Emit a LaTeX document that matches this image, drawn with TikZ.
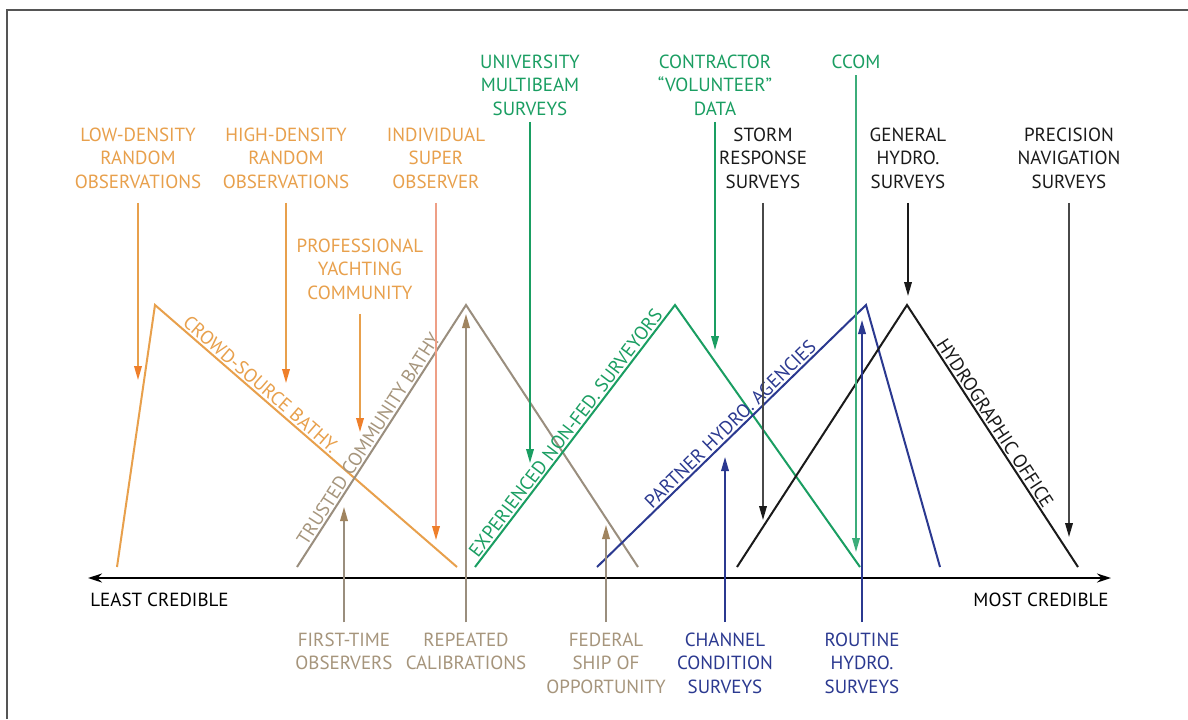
\documentclass[tikz,border=0pt]{standalone}
\usepackage{fontspec}
\setmainfont{PT Sans}
\usetikzlibrary{arrows.meta}
\definecolor{crowd}{HTML}{E8A04C}
\definecolor{crowdtip}{HTML}{EF7F2A}
\definecolor{salmon}{HTML}{EE9F86}
\definecolor{trust}{HTML}{A6957C}
\definecolor{trustln}{HTML}{9A8E7E}
\definecolor{trusttip}{HTML}{A0845F}
\definecolor{nonfed}{HTML}{1A9E62}
\definecolor{partner}{HTML}{2B3990}
\definecolor{hydro}{HTML}{1A1A1A}
\definecolor{frm}{HTML}{555555}
\tikzset{
  >={Stealth[length=7pt,width=4.5pt]},
  lab/.style={font=\fontsize{9.5}{11.75}\selectfont,align=center,inner sep=1pt},
  side/.style={font=\fontsize{9.5}{10}\selectfont,sloped,above,inner sep=0.8pt},
  tri/.style={line width=1pt},
  parr/.style={line width=0.8pt,shorten <=6pt},
  oarr/.style={parr,draw=crowd,-{Triangle[length=7pt,width=3.8pt,color=crowdtip]}},
  tarr/.style={parr,draw=trustln,-{Triangle[length=7pt,width=3.8pt,color=trusttip]}},
  garr/.style={parr,draw=nonfed,-{Triangle[length=7pt,width=3.8pt]}},
  barr/.style={parr,draw=partner,-{Triangle[length=7pt,width=3.8pt]}},
  karr/.style={parr,draw=hydro!80,-{Triangle[length=7pt,width=3.8pt,color=hydro]}},
}
\begin{document}
\begin{tikzpicture}[x=0.5pt,y=-0.5pt]
\useasboundingbox (0,0) rectangle (1188,719);
\fill[white] (0,0) rectangle (1188,719);
\draw[frm,line width=0.8pt] (7,719) -- (7,10) -- (1188,10);
% credibility axis
\coordinate (axL) at (88,578);
\coordinate (axR) at (1111,578);
\draw[<->,line width=0.9pt] (axL) -- (axR);
\node[lab,anchor=west] (least) at (88,600) {LEAST CREDIBLE};
\node[lab,anchor=east] (most) at (1111,600) {MOST CREDIBLE};
% triangles
\draw[tri,crowd] (117,567) -- (155,305) -- node[side,pos=0.33]{CROWD-SOURCE BATHY.} (457,567);
\draw[tri,trustln] (297,567) -- node[side,trust,pos=0.47]{TRUSTED COMMUNITY BATHY} (466,305) -- (638,567);
\draw[tri,nonfed] (475,567) -- node[side,pos=0.49]{EXPERIENCED NON-FED. SURVEYORS} (675,305) -- (860,567);
\draw[tri,partner] (597,567) -- node[side,pos=0.52]{PARTNER HYDRO. AGENCIES} (866,305) -- (940,567);
\draw[tri,hydro] (737,567) -- (907,305) -- node[side,pos=0.47]{HYDROGRAPHIC OFFICE} (1078,567);
% labels above
\node[lab,crowd] (lowd) at (138,158) {LOW-DENSITY\\RANDOM\\OBSERVATIONS};
\node[lab,crowd] (highd) at (286,158) {HIGH-DENSITY\\RANDOM\\OBSERVATIONS};
\node[lab,crowd] (indiv) at (436,158) {INDIVIDUAL\\SUPER\\OBSERVER};
\node[lab,crowd] (yacht) at (360,269) {PROFESSIONAL\\YACHTING\\COMMUNITY};
\node[lab,nonfed] (univ) at (530,85) {UNIVERSITY\\MULTIBEAM\\SURVEYS};
\node[lab,nonfed] (contr) at (715,85) {CONTRACTOR\\“VOLUNTEER”\\DATA};
\node[lab,nonfed] (ccom) at (856,62) {CCOM};
\node[lab,hydro] (storm) at (763,158) {STORM\\RESPONSE\\SURVEYS};
\node[lab,hydro] (gen) at (908,158) {GENERAL\\HYDRO.\\SURVEYS};
\node[lab,hydro] (prec) at (1069,158) {PRECISION\\NAVIGATION\\SURVEYS};
% labels below
\node[lab,trust] (first) at (344,651.5) {FIRST-TIME\\OBSERVERS};
\node[lab,trust] (rep) at (466,651.5) {REPEATED\\CALIBRATIONS};
\node[lab,trust] (fed) at (606,663) {FEDERAL\\SHIP OF\\OPPORTUNITY};
\node[lab,partner] (chan) at (725,663) {CHANNEL\\CONDITION\\SURVEYS};
\node[lab,partner] (rout) at (862,663) {ROUTINE\\HYDRO.\\SURVEYS};
% arrow ends
\coordinate (lowdE) at (138,380);
\coordinate (highdE) at (286,383);
\coordinate (indivE) at (436,540);
\coordinate (yachtE) at (360,432);
\coordinate (univE) at (530,463);
\coordinate (contrE) at (715,350);
\coordinate (ccomE) at (856,552);
\coordinate (stormE) at (763,520);
\coordinate (genE) at (908,296);
\coordinate (precE) at (1069,537);
\coordinate (firstE) at (344,507);
\coordinate (repE) at (466,314);
\coordinate (fedE) at (606,525);
\coordinate (chanE) at (725,457);
\coordinate (routE) at (862,320);
% arrows
\draw[oarr] (lowd) -- (lowdE);
\draw[oarr] (highd) -- (highdE);
\draw[oarr,draw=salmon] (indiv) -- (indivE);
\draw[oarr] (yacht) -- (yachtE);
\draw[garr,shorten <=2pt] (univ) -- (univE);
\draw[garr,shorten <=2pt] (contr) -- (contrE);
\draw[garr,draw=nonfed!85,shorten <=2pt] (ccom) -- (ccomE);
\draw[karr] (storm) -- (stormE);
\draw[karr,draw=hydro] (gen) -- (genE);
\draw[karr] (prec) -- (precE);
\draw[tarr,shorten <=4pt] (first) -- (firstE);
\draw[tarr,shorten <=4pt] (rep) -- (repE);
\draw[tarr,shorten <=4pt] (fed) -- (fedE);
\draw[barr,shorten <=4pt] (chan) -- (chanE);
\draw[barr,shorten <=4pt] (rout) -- (routE);
\end{tikzpicture}
\end{document}
